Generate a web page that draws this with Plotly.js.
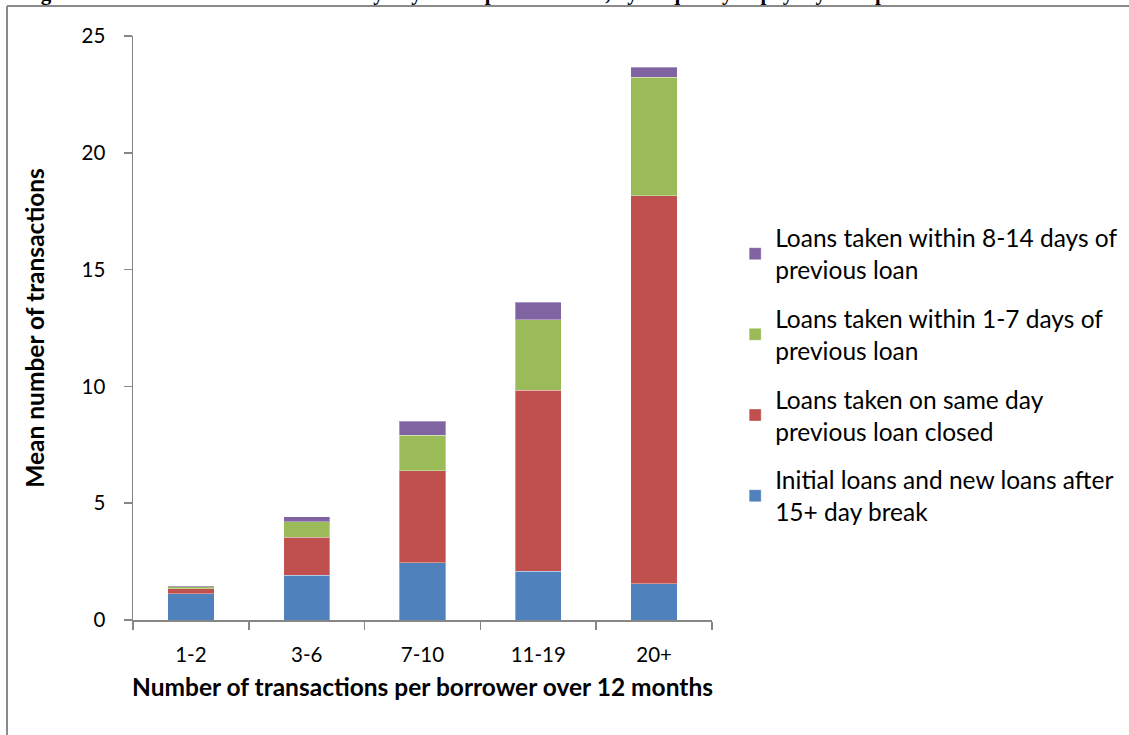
<!DOCTYPE html>
<html>
<head>
<meta charset="utf-8">
<script src="https://cdn.plot.ly/plotly-3.0.1.min.js"></script>
<style>
html,body{margin:0;padding:0;background:#fff;}
#chart{width:1129px;height:735px;}
</style>
</head>
<body>
<div id="chart"></div>
<script>
const categories = ["1-2", "3-6", "7-10", "11-19", "20+"];
const initialLoans = [1.12, 1.91, 2.46, 2.09, 1.56];
const sameDayLoans = [0.21, 1.63, 3.92, 7.75, 16.60];
const within1to7 = [0.09, 0.66, 1.53, 3.02, 5.07];
const within8to14 = [0.04, 0.21, 0.59, 0.74, 0.44];

const seriesNames = [
  "Initial loans and new loans after<br>15+ day break",
  "Loans taken on same day<br>previous loan closed",
  "Loans taken within 1-7 days of<br>previous loan",
  "Loans taken within 8-14 days of<br>previous loan"
];
const seriesColors = ["#4F81BD", "#C0504D", "#9BBB59", "#8064A2"];
const seriesValues = [initialLoans, sameDayLoans, within1to7, within8to14];

const yTicks = [0, 5, 10, 15, 20, 25];
const titleText = "Figure 3: Distribution of transactions by days since previous loan, by frequency of payday loan products";

const traces = seriesValues.map((vals, i) => ({
  type: "bar",
  x: categories,
  y: vals,
  name: seriesNames[i],
  legendgroup: "g" + i,
  legendrank: 10 - i,
  marker: {color: seriesColors[i], line: {color: "rgba(255,255,255,0.35)", width: 1}},
  hoverinfo: "y"
}));

const font = "Lato, 'Open Sans', sans-serif";
const axisGray = "#868686";

const layout = {
  width: 1129,
  height: 735,
  margin: {l: 133, r: 417, t: 36, b: 115, autoexpand: false},
  paper_bgcolor: "#fff",
  plot_bgcolor: "#fff",
  barmode: "stack",
  bargap: 0.6,
  font: {family: font, size: 20, color: "#000"},
  showlegend: true,
  legend: {
    x: 1.04, xanchor: "left",
    y: 0.693, yanchor: "top",
    traceorder: "grouped",
    tracegroupgap: 14,
    font: {family: font, size: 24.5, color: "#000"},
    bgcolor: "rgba(0,0,0,0)",
    itemclick: false
  },
  xaxis: {
    type: "category",
    range: [-0.5, 4.5],
    showline: true, linecolor: axisGray, linewidth: 1.5,
    ticks: "outside", tickson: "boundaries", ticklen: 8, tickcolor: axisGray, tickwidth: 1.5,
    showgrid: false, zeroline: false,
    tickfont: {family: font, size: 20.5, color: "#000"},
    ticklabelstandoff: 16,
    title: {text: "<b>Number of transactions per borrower over 12 months</b>", font: {family: font, size: 24.5, color: "#000"}, standoff: 14},
    automargin: false
  },
  yaxis: {
    range: [0, 25],
    tickvals: yTicks,
    ticktext: yTicks.map(String),
    showline: true, linecolor: axisGray, linewidth: 1.5,
    ticks: "outside", ticklen: 8, tickcolor: axisGray, tickwidth: 1.5,
    showgrid: false, zeroline: false,
    tickfont: {family: font, size: 20.5, color: "#000"},
    ticklabelstandoff: 14,
    title: {text: "<b>Mean number of transactions</b>", font: {family: font, size: 24.5, color: "#000"}, standoff: 30},
    automargin: false
  },
  shapes: [
    {type: "line", xref: "paper", yref: "paper", x0: -0.2176, x1: 2.0, y0: 1.0514, y1: 1.0514, line: {color: "#8a8a8a", width: 2}},
    {type: "line", xref: "paper", yref: "paper", x0: -0.2176, x1: -0.2176, y0: 1.0514, y1: -0.25, line: {color: "#8a8a8a", width: 2}}
  ],
  annotations: [
    {xref: "paper", yref: "paper", x: -0.195, y: 1.0497, xanchor: "left", yanchor: "bottom", showarrow: false,
     text: "<b>" + titleText + "</b>", font: {family: "'Liberation Serif', serif", size: 21, color: "#000"}}
  ]
};

Plotly.newPlot("chart", traces, layout, {displayModeBar: false, staticPlot: true});
</script>
</body>
</html>
